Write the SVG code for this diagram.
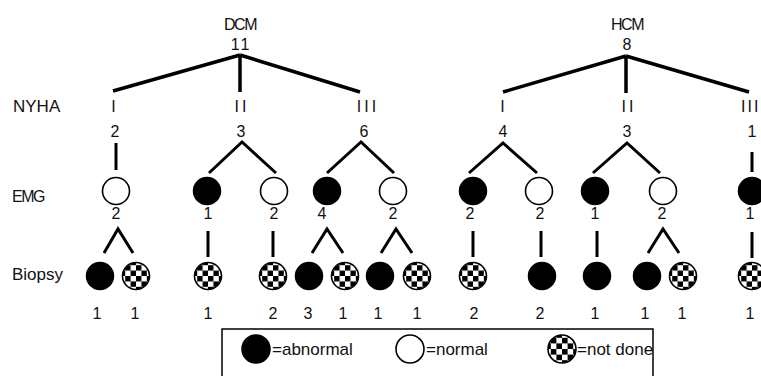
<svg xmlns="http://www.w3.org/2000/svg" width="761" height="376" viewBox="0 0 761 376">
  <defs>
    <!-- checkerboard fill for "not done" biopsies -->
    <pattern id="checker" patternUnits="objectBoundingBox" patternContentUnits="objectBoundingBox" x="0.1" y="0.1" width="0.4" height="0.4">
      <rect x="0" y="0" width="0.2" height="0.2" fill="#000"/>
      <rect x="0.2" y="0.2" width="0.2" height="0.2" fill="#000"/>
    </pattern>
    <style>
      text { font-family: "Liberation Sans", Arial, sans-serif; fill: #111; }
      .lbl { font-size: 17px; }
      .cond { font-size: 16px; letter-spacing: -1.5px; }
      .num { font-size: 16px; text-anchor: middle; }
      .roman { font-size: 16px; text-anchor: middle; letter-spacing: 3px; font-weight: 300; }
      .leg { font-size: 17px; }
      .trunk { stroke: #000; stroke-width: 3.5; fill: none; stroke-linecap: butt; stroke-linejoin: miter; }
      .branch { stroke: #000; stroke-width: 3; fill: none; stroke-linejoin: miter; }
      .abn { fill: #000; stroke: #000; stroke-width: 1.5; }
      .nor { fill: #fff; stroke: #000; stroke-width: 1.6; }
      .nd { fill: url(#checker); stroke: #000; stroke-width: 1.6; }
    </style>
  </defs>

  <rect width="761" height="376" fill="#fff"/>

  <!-- row labels -->
  <g id="row-labels">
    <text class="lbl" x="13" y="112">NYHA</text>
    <text class="cond" x="12" y="202">EMG</text>
    <text class="lbl" x="12" y="280">Biopsy</text>
  </g>

  <!-- connectors -->
  <g id="connectors">
    <path class="trunk" d="M240 55 L113 91 M240 55 V92 M240 55 L360 92"/>
    <path class="trunk" d="M626 56 L503 92 M626 56 V93 M626 56 L749 92"/>

    <path class="branch" d="M116 143 V170"/>
    <path class="branch" d="M209 173 L242 142 L276 173"/>
    <path class="branch" d="M327 173 L361 142 L394 173"/>
    <path class="branch" d="M469 173 L503 143 L537 173"/>
    <path class="branch" d="M593 173 L627 143 L660 173"/>
    <path class="branch" d="M752 152 V172"/>

    <path class="branch" d="M104 253 L118 229 L133 253"/>
    <path class="branch" d="M208 231 V257"/>
    <path class="branch" d="M273 231 V257"/>
    <path class="branch" d="M312 253 L327 229 L343 253"/>
    <path class="branch" d="M381 253 L396 229 L412 253"/>
    <path class="branch" d="M473 231 V257"/>
    <path class="branch" d="M541 231 V257"/>
    <path class="branch" d="M597 231 V257"/>
    <path class="branch" d="M648 253 L663 229 L679 253"/>
    <path class="branch" d="M752 232 V258"/>
  </g>

  <!-- disease roots -->
  <g id="dcm">
    <text class="cond" x="240" y="30" text-anchor="middle">DCM</text>
    <text class="num" x="241" y="50" style="letter-spacing:2px">11</text>
  </g>
  <g id="hcm">
    <text class="cond" x="627" y="30" text-anchor="middle">HCM</text>
    <text class="num" x="627" y="50">8</text>
  </g>

  <!-- NYHA classes -->
  <g id="dcm-nyha-1"><text class="roman" x="115" y="112">I</text><text class="num" x="115" y="137">2</text></g>
  <g id="dcm-nyha-2"><text class="roman" x="242" y="112">II</text><text class="num" x="241" y="137">3</text></g>
  <g id="dcm-nyha-3"><text class="roman" x="368" y="112">III</text><text class="num" x="364" y="137">6</text></g>
  <g id="hcm-nyha-1"><text class="roman" x="504" y="112">I</text><text class="num" x="503" y="137">4</text></g>
  <g id="hcm-nyha-2"><text class="roman" x="629" y="112">II</text><text class="num" x="627" y="137">3</text></g>
  <g id="hcm-nyha-3"><text class="roman" x="741" y="112" style="text-anchor:start;letter-spacing:2px">III</text><text class="num" x="752" y="137">1</text></g>

  <!-- EMG results -->
  <g id="emg-d1"><circle class="nor" cx="116" cy="191" r="13.5"/><text class="num" x="116" y="219">2</text></g>
  <g id="emg-d2a"><circle class="abn" cx="207" cy="191" r="13.5"/><text class="num" x="208" y="219">1</text></g>
  <g id="emg-d2b"><circle class="nor" cx="274" cy="191" r="13.5"/><text class="num" x="274" y="219">2</text></g>
  <g id="emg-d3a"><circle class="abn" cx="327" cy="191" r="13.5"/><text class="num" x="322" y="219">4</text></g>
  <g id="emg-d3b"><circle class="nor" cx="393" cy="191" r="13.5"/><text class="num" x="393" y="219">2</text></g>
  <g id="emg-h1a"><circle class="abn" cx="473" cy="191" r="13.5"/><text class="num" x="470" y="219">2</text></g>
  <g id="emg-h1b"><circle class="nor" cx="539" cy="191" r="13.5"/><text class="num" x="540" y="219">2</text></g>
  <g id="emg-h2a"><circle class="abn" cx="595" cy="191" r="13.5"/><text class="num" x="595" y="219">1</text></g>
  <g id="emg-h2b"><circle class="nor" cx="663" cy="191" r="13.5"/><text class="num" x="662" y="219">2</text></g>
  <g id="emg-h3"><circle class="abn" cx="752" cy="191" r="13.5"/><text class="num" x="750" y="219">1</text></g>

  <!-- biopsy results -->
  <g id="bx-1"><circle class="abn" cx="100" cy="276" r="13.5"/><text class="num" x="97" y="319">1</text></g>
  <g id="bx-2"><circle class="nd" cx="136" cy="276" r="13.5"/><text class="num" x="135" y="319">1</text></g>
  <g id="bx-3"><circle class="nd" cx="208" cy="276" r="13.5"/><text class="num" x="208" y="319">1</text></g>
  <g id="bx-4"><circle class="nd" cx="273" cy="276" r="13.5"/><text class="num" x="273" y="319">2</text></g>
  <g id="bx-5"><circle class="abn" cx="309" cy="276" r="13.5"/><text class="num" x="308" y="319">3</text></g>
  <g id="bx-6"><circle class="nd" cx="345" cy="276" r="13.5"/><text class="num" x="343" y="319">1</text></g>
  <g id="bx-7"><circle class="abn" cx="380" cy="276" r="13.5"/><text class="num" x="378" y="319">1</text></g>
  <g id="bx-8"><circle class="nd" cx="417" cy="276" r="13.5"/><text class="num" x="417" y="319">1</text></g>
  <g id="bx-9"><circle class="nd" cx="473" cy="276" r="13.5"/><text class="num" x="474" y="319">2</text></g>
  <g id="bx-10"><circle class="abn" cx="542" cy="276" r="13.5"/><text class="num" x="540" y="319">2</text></g>
  <g id="bx-11"><circle class="abn" cx="597" cy="276" r="13.5"/><text class="num" x="595" y="319">1</text></g>
  <g id="bx-12"><circle class="abn" cx="647" cy="276" r="13.5"/><text class="num" x="645" y="319">1</text></g>
  <g id="bx-13"><circle class="nd" cx="683" cy="276" r="13.5"/><text class="num" x="682" y="319">1</text></g>
  <g id="bx-14"><circle class="nd" cx="752" cy="276" r="13.5"/><text class="num" x="750" y="319">1</text></g>

  <!-- key -->
  <g id="legend">
    <rect x="222" y="329" width="431" height="70" fill="none" stroke="#000" stroke-width="1.5"/>
    <circle class="abn" cx="256" cy="349" r="14"/>
    <text class="leg" x="272" y="355">=abnormal</text>
    <circle class="nor" cx="410" cy="349" r="14"/>
    <text class="leg" x="426" y="355">=normal</text>
    <circle class="nd" cx="562" cy="349" r="14"/>
    <text class="leg" x="577" y="355">=not done</text>
  </g>
</svg>
